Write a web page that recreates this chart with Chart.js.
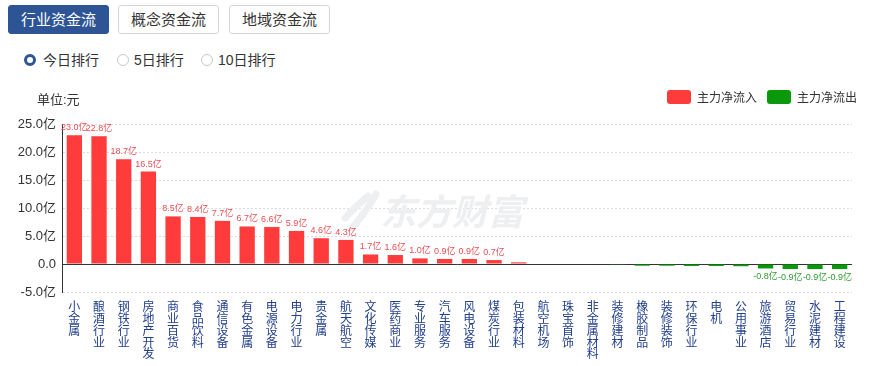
<!DOCTYPE html>
<html>
<head>
<meta charset="utf-8">
<script src="https://cdn.jsdelivr.net/npm/chart.js@4.4.0/dist/chart.umd.min.js"></script>
<style>
body{margin:0;width:872px;height:366px;background:#fff;position:relative;overflow:hidden;
  font-family:'Liberation Sans','Noto Sans CJK SC',sans-serif;}
.btn{position:absolute;top:5px;height:29px;width:101px;box-sizing:border-box;border:1px solid #d3d7dd;
  border-radius:3px;font-size:15px;line-height:27px;text-align:center;color:#333;background:#fff}
.btn.on{background:#2d5596;border-color:#2d5596;color:#fff}
.radio{position:absolute;top:51px;font-size:14px;line-height:18px;color:#333}
.dot{position:absolute;top:54px;width:12px;height:12px;box-sizing:border-box;border-radius:50%;border:1px solid #c8c8c8;background:#fff}
.dot.on{border:3.5px solid #2d5596}
#unit{position:absolute;left:37px;top:89px;font-size:13px;color:#333}
#wrap{position:absolute;left:0;top:80px;width:872px;height:286px}
</style>
</head>
<body>
<div class="btn on" style="left:8px">行业资金流</div>
<div class="btn" style="left:118px">概念资金流</div>
<div class="btn" style="left:229px">地域资金流</div>

<span class="dot on" style="left:24px"></span><span class="radio" style="left:43px">今日排行</span>
<span class="dot" style="left:117px"></span><span class="radio" style="left:134px">5日排行</span>
<span class="dot" style="left:201px"></span><span class="radio" style="left:218px">10日排行</span>

<div id="wrap"><canvas id="flow-bar"></canvas></div>
<div id="unit">单位:元</div>

<script>
var categories = ['小金属','酿酒行业','钢铁行业','房地产开发','商业百货','食品饮料','通信设备','有色金属',
	'电源设备','电力行业','贵金属','航天航空','文化传媒','医药商业','专业服务','汽车服务',
	'风电设备','煤炭行业','包装材料','航空机场','珠宝首饰','非金属材料','装修建材','橡胶制品',
	'装修装饰','环保行业','电机','公用事业','旅游酒店','贸易行业','水泥建材','工程建设'];
// 主力净流入/流出, 亿元
var netFlow = [23.0,22.8,18.7,16.5,8.5,8.4,7.7,6.7,
	6.6,5.9,4.6,4.3,1.7,1.6,1.0,0.9,
	0.9,0.7,0.3,0.0,0.0,-0.1,-0.15,-0.3,
	-0.3,-0.35,-0.35,-0.4,-0.8,-0.9,-0.9,-0.9];
var yTicks = [-5,0,5,10,15,20,25];
var seriesNames = ['主力净流入','主力净流出'];
var labelMin = 0.6;   // smaller values get no label

var inflow = netFlow.map(function(v){ return v >= 0 ? v : null; });
var outflow = netFlow.map(function(v){ return v < 0 ? v : null; });

var RED = '#ff3b3b';
var GREEN = '#0a990a';

// value labels above / below the bars
var valueLabels = {
	id: 'valueLabels',
	afterDatasetsDraw: function(chart) {
		var ctx = chart.ctx;
		ctx.save();
		ctx.font = '9px "Liberation Sans","Noto Sans CJK SC",sans-serif';
		ctx.textAlign = 'center';
		chart.data.datasets.forEach(function(ds, di) {
			var meta = chart.getDatasetMeta(di);
			meta.data.forEach(function(bar, i) {
				var v = ds.data[i];
				if (v == null || Math.abs(v) < labelMin) return;
				if (v > 0) {
					ctx.fillStyle = '#ea4e53';
					ctx.textBaseline = 'bottom';
					ctx.fillText(v.toFixed(1) + '亿', bar.x, bar.y - 3);
				} else {
					ctx.fillStyle = '#2f9a2f';
					ctx.textBaseline = 'top';
					ctx.fillText(v.toFixed(1) + '亿', bar.x, bar.y + 4);
				}
			});
		});
		ctx.restore();
	}
};

// faint site watermark behind the bars
var watermark = {
	id: 'watermark',
	beforeDatasetsDraw: function(chart) {
		var ctx = chart.ctx;
		ctx.save();
		ctx.fillStyle = '#eeeff1';
		ctx.font = 'italic bold 36px "Noto Sans CJK SC",sans-serif';
		ctx.textBaseline = 'middle';
		ctx.fillText('东方财富', 380, 131);
		// swoosh mark
		ctx.strokeStyle = '#eeeff1';
		ctx.lineWidth = 7;
		ctx.lineCap = 'round';
		ctx.beginPath();
		ctx.moveTo(345, 138); ctx.quadraticCurveTo(356, 126, 368, 116); ctx.stroke();
		ctx.beginPath();
		ctx.moveTo(352, 148); ctx.quadraticCurveTo(366, 132, 376, 114); ctx.stroke();
		ctx.restore();
	}
};

// extra space between legend and plot
var legendGap = {
	id: 'legendGap',
	beforeInit: function(chart) {
		if (!chart.legend) return;
		var fit = chart.legend.fit;
		chart.legend.fit = function() {
			fit.bind(chart.legend)();
			this.height += 10;
		};
	}
};

var ctx1 = document.getElementById('flow-bar').getContext('2d');
var chart = new Chart(ctx1, {
	type: 'bar',
	data: {
		labels: categories.map(function(c){ return c.split(''); }),
		datasets: [{
			label: seriesNames[0],
			data: inflow,
			backgroundColor: RED,
			categoryPercentage: 0.62,
			barPercentage: 1
		}, {
			label: seriesNames[1],
			data: outflow,
			backgroundColor: GREEN,
			categoryPercentage: 0.62,
			barPercentage: 1
		}]
	},
	options: {
		responsive: true,
		maintainAspectRatio: false,
		animation: false,
		layout: { padding: { left: 0, right: 5, top: 0, bottom: 0 } },
		plugins: {
			legend: {
				position: 'top',
				align: 'end',
				labels: {
					boxWidth: 24,
					boxHeight: 14,
					useBorderRadius: true,
					borderRadius: 3,
					padding: 10,
					color: '#333',
					font: { size: 12, family: '"Noto Sans CJK SC",sans-serif' }
				}
			},
			tooltip: { enabled: false }
		},
		scales: {
			x: {
				stacked: true,
				grid: { display: false },
				border: { display: false },
				ticks: {
					autoSkip: false,
					maxRotation: 0,
					padding: 1,
					color: '#23408e',
					font: { size: 12, lineHeight: 0.98, family: '"Noto Sans CJK SC",sans-serif' }
				},
				afterFit: function(scale){ scale.height = 74; }
			},
			y: {
				stacked: true,
				min: -5,
				max: 25,
				afterBuildTicks: function(scale){
					scale.ticks = yTicks.map(function(v){ return { value: v }; });
				},
				afterFit: function(scale){ scale.width = 62; },
				grid: {
					drawTicks: false,
					color: function(c){ return c.tick && c.tick.value === 0 ? '#333' : '#dcdcdc'; }
				},
				border: {
					display: true,
					color: '#333',
					dash: function(c){ return c.tick && c.tick.value === 0 ? [] : [2, 2]; }
				},
				ticks: {
					padding: 6,
					color: '#333',
					font: { size: 13, family: '"Liberation Sans","Noto Sans CJK SC",sans-serif' },
					callback: function(v){ return v === 0 ? '0.0' : v.toFixed(1) + '亿'; }
				}
			},
			// empty right-hand strip so the plot stops short of the legend edge
			yRight: {
				position: 'right',
				display: true,
				grid: { display: false },
				border: { display: false },
				ticks: { display: false },
				afterFit: function(scale){ scale.width = 15; }
			}
		}
	},
	plugins: [valueLabels, watermark, legendGap]
});
</script>
</body>
</html>
